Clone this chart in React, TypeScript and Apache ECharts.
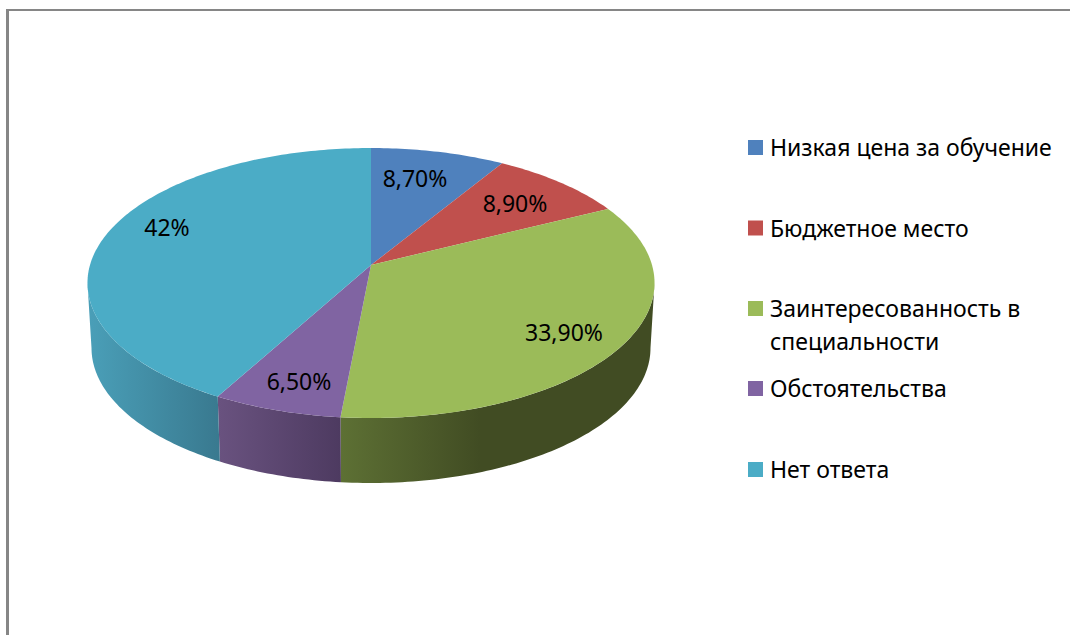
import React, { useEffect, useRef } from "react";
import * as echarts from "echarts";

const categories = [
  "Низкая цена за обучение",
  "Бюджетное место",
  "Заинтересованность в\nспециальности",
  "Обстоятельства",
  "Нет ответа",
];
const values = [8.7, 8.9, 33.9, 6.5, 42];
const valueLabels = ["8,70%", "8,90%", "33,90%", "6,50%", "42%"];
const topColors = ["#4F81BD", "#C0504D", "#9BBB59", "#8064A2", "#4BACC6"];
// Side-wall shading: [x where the ramp starts, x where it ends, left colour, right colour]
const wallRamps: [number, number, string, string][] = [
  [371, 510, "#2f4d71", "#2f4d71"],
  [500, 610, "#73302e", "#73302e"],
  [341, 480, "#5d7034", "#414c23"],
  [219, 342, "#69527f", "#4d3a60"],
  [88, 220, "#4a9fb8", "#39798f"],
];
const labelAnchors: [number, number][] = [
  [415, 178],
  [515, 203],
  [564, 332],
  [299, 381],
  [167, 227],
];
const legendRows = [147.5, 228, 308.5, 388.5, 469.5];
const FONT = "'Noto Sans', sans-serif";

const cx = 371;
const apexY = 265;
const radius = 281;
const persp = 7.5;
const ySpan = 994.5;
const wallDrop = 65;
const lowerRadius = 277;
// Angle at which the projected rim is widest: the silhouette of the side wall starts and ends here.
const wallStart = Math.acos(-1 / persp);
const wallEnd = Math.PI * 2 - wallStart;

const total = values.reduce((a, b) => a + b, 0);
const rim = (theta: number, r: number, y0: number): [number, number] => {
  const u = Math.sin(theta);
  const v = -Math.cos(theta);
  const w = persp / (persp - v);
  return [cx + r * u * w, y0 + ySpan * (w - 1)];
};
const arc = (a: number, b: number, r: number, y0: number) => {
  const n = Math.max(2, Math.ceil(((b - a) * 180) / Math.PI));
  const pts: [number, number][] = [];
  for (let i = 0; i <= n; i++) pts.push(rim(a + ((b - a) * i) / n, r, y0));
  return pts;
};

function buildOption() {
  let cum = 0;
  const series = categories.map((name, i) => {
    const a = (cum / total) * Math.PI * 2;
    cum += values[i];
    const b = (cum / total) * Math.PI * 2;
    const [x1, x2, c1, c2] = wallRamps[i];
    const wa = Math.max(a, wallStart);
    const wb = Math.min(b, wallEnd);
    return {
      type: "custom",
      name,
      coordinateSystem: "none",
      silent: true,
      itemStyle: { color: topColors[i] },
      data: [[values[i]]],
      renderItem: () => ({
        type: "group",
        children: [
          ...(wa < wb
            ? [
                {
                  type: "polygon",
                  z2: 1,
                  shape: {
                    points: [
                      ...arc(wa, wb, radius, apexY),
                      ...arc(wa, wb, lowerRadius, apexY + wallDrop).reverse(),
                    ],
                  },
                  style: {
                    fill: new echarts.graphic.LinearGradient(x1, 0, x2, 0, [
                      { offset: 0, color: c1 },
                      { offset: 1, color: c2 },
                    ], true),
                  },
                },
              ]
            : []),
          {
            type: "polygon",
            z2: 10,
            shape: { points: [[cx, apexY], ...arc(a, b, radius, apexY)] },
            style: { fill: topColors[i] },
          },
          {
            type: "text",
            z2: 20,
            x: labelAnchors[i][0],
            y: labelAnchors[i][1],
            style: {
              text: valueLabels[i],
              font: `23px ${FONT}`,
              fill: "#000",
              align: "center",
              verticalAlign: "middle",
            },
          },
        ],
      }),
    };
  });

  const legendGraphic = categories.flatMap((name, i) => [
    { type: "rect", shape: { x: 748, y: legendRows[i] - 7.5, width: 15, height: 15 }, style: { fill: topColors[i] } },
    {
      type: "text",
      x: 770,
      y: legendRows[i] - 17,
      style: { text: name, font: `23px ${FONT}`, fill: "#000", lineHeight: 33 },
    },
  ]);

  return {
    animation: false,
    backgroundColor: "#fff",
    graphic: [
      { type: "line", shape: { x1: 7.5, y1: 9, x2: 7.5, y2: 635 }, style: { stroke: "#868686", lineWidth: 3 } },
      { type: "line", shape: { x1: 6, y1: 10, x2: 1070, y2: 10 }, style: { stroke: "#868686", lineWidth: 2 } },
      ...legendGraphic,
    ],
    series,
  };
}

export default function App() {
  const ref = useRef<HTMLDivElement>(null);
  useEffect(() => {
    const chart = echarts.init(ref.current!, undefined, { renderer: "svg" });
    chart.setOption(buildOption() as any);
    return () => chart.dispose();
  }, []);
  return <div ref={ref} style={{ position: "fixed", left: 0, top: 0, width: 1070, height: 635 }} />;
}
